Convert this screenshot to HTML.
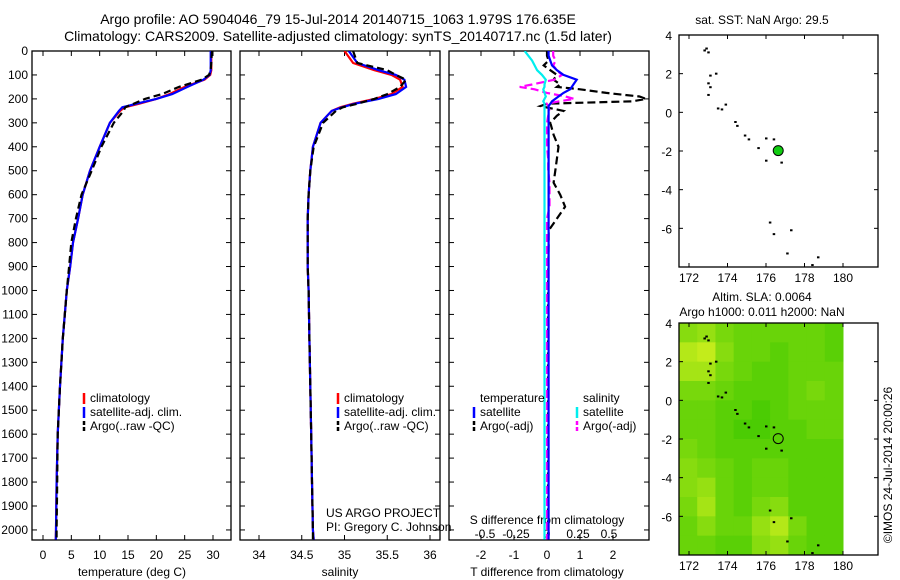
<!DOCTYPE html>
<html><head><meta charset="utf-8"><style>
body{margin:0;background:#fff}
svg{display:block;font-family:"Liberation Sans",sans-serif}
text{font-size:12px;fill:#000}
</style></head><body>
<svg id="s" width="900" height="580" viewBox="0 0 900 580">
<text x="338" y="24" text-anchor="middle" style="font-size:14px">Argo profile: AO 5904046_79 15-Jul-2014 20140715_1063 1.979S 176.635E</text>
<text x="338" y="41" text-anchor="middle" style="font-size:14px">Climatology: CARS2009. Satellite-adjusted climatology: synTS_20140717.nc (1.5d later)</text>
<text x="762" y="24" text-anchor="middle">sat. SST: NaN Argo: 29.5</text>
<text x="762" y="301" text-anchor="middle">Altim. SLA: 0.0064</text>
<text x="762" y="316" text-anchor="middle">Argo h1000: 0.011 h2000: NaN</text>
<text transform="translate(892,465) rotate(-90)" text-anchor="middle">©IMOS 24-Jul-2014 20:00:26</text>
<text x="326" y="517">US ARGO PROJECT</text>
<text x="326" y="531">PI: Gregory C. Johnson</text>
</svg>
<script>
const depth=[0,50,80,100,120,150,180,200,220,235,250,300,400,500,600,700,800,900,1000,1200,1400,1600,1800,2000,2040];
const tempClim=[29.7,29.7,29.7,29.5,28.5,25,22.3,20,17,14.4,13.6,11.8,10,8.3,7,6.2,5.3,4.8,4.2,3.5,3,2.6,2.4,2.3,2.25];
const tempSat=[29.6,29.6,29.6,29.4,28.3,25.5,22.8,20,16.5,14,13.4,11.8,10,8.3,7,6.2,5.3,4.8,4.2,3.5,3,2.6,2.4,2.3,2.25];
const tempArgo=[29.8,29.7,29.6,29.3,28.0,24,21,18,16,14.5,14.2,12.5,10.3,8.6,6.8,5.8,5.0,4.6,4.2,3.5,3,2.6,2.5,2.4,2.4];
const salClim=[35.0,35.1,35.35,35.55,35.65,35.68,35.55,35.35,35.1,34.95,34.85,34.72,34.63,34.6,34.58,34.57,34.57,34.57,34.58,34.59,34.6,34.61,34.62,34.63,34.64];
const salSat=[35.05,35.15,35.4,35.6,35.7,35.72,35.6,35.4,35.12,34.97,34.85,34.72,34.63,34.6,34.58,34.57,34.57,34.57,34.58,34.59,34.6,34.61,34.62,34.63,34.64];
const salArgo=[35.1,35.15,35.5,35.6,35.72,35.65,35.5,35.35,35.15,34.98,34.9,34.75,34.64,34.6,34.58,34.57,34.57,34.57,34.58,34.59,34.6,34.61,34.62,34.63,34.63];
const diffDepth=[0,20,40,60,80,100,120,140,150,160,175,190,200,210,220,230,250,270,300,350,400,450,500,550,600,650,700,750,800,1000,1500,2000,2040];
const tSatDiff=[0.05,0.05,0.1,0.15,0.3,0.5,0.9,0.8,0.75,0.7,0.5,0.35,0.25,0.15,0.1,0.05,0.05,0.05,0.05,0.05,0.05,0.05,0.05,0.05,0.05,0.05,0.05,0.05,0.05,0.05,0.05,0.05,0.05];
const tArgoDiff=[0,0,0.05,-0.1,0.1,0.3,0.2,0.4,0.3,1.0,1.8,2.8,3.0,2.6,0.0,-0.2,0.5,0.3,0.1,0.2,0.35,0.3,0.25,0.2,0.4,0.55,0.3,0.05,0.05,0.03,0.03,0.03,0.03];
const sSatDiff=[-0.18,-0.15,-0.12,-0.1,-0.08,-0.04,-0.01,-0.02,-0.02,-0.03,-0.02,-0.01,-0.02,-0.03,-0.02,-0.02,-0.02,-0.02,-0.02,-0.02,-0.02,-0.02,-0.02,-0.02,-0.02,-0.02,-0.02,-0.02,-0.02,-0.02,-0.02,-0.02,-0.02];
const sArgoDiff=[0.05,0.05,0.07,0.05,0.08,0.12,0.06,-0.12,-0.22,-0.1,0.0,0.15,0.22,0.1,0.0,0.01,0.02,0.01,0,0,0,0.01,0.01,0.02,0.02,0.02,0.0,0,0,0,0,0,0];
const depthTicks=[0,100,200,300,400,500,600,700,800,900,1000,1100,1200,1300,1400,1500,1600,1700,1800,1900,2000];
const tempTicks=[0,5,10,15,20,25,30];
const salTicks=[34,34.5,35,35.5,36];
const tDiffTicks=[-2,-1,0,1,2];
const sDiffTicks=[-0.5,-0.25,0,0.25,0.5];
const sdLabels=["-0.5","-0.25","0","0.25","0.5"];
const latTicks=[4,2,0,-2,-4,-6];
const lonTicks=[172,174,176,178,180];
const slaGrid=[
[0.5,0.6,0.4,0.3,0.3,0.3,0.3,0.3,0.2],
[0.8,0.9,0.5,0.3,0.3,0.2,0.3,0.3,0.2],
[0.7,0.7,0.4,0.3,0.2,0.2,0.3,0.3,0.3],
[0.4,0.4,0.3,0.2,0.2,0.2,0.3,0.4,0.3],
[0.3,0.3,0.2,0.2,0.1,0.2,0.3,0.3,0.3],
[0.3,0.3,0.2,0.1,0.1,0.2,0.2,0.3,0.3],
[0.4,0.3,0.2,0.2,0.2,0.2,0.2,0.2,0.2],
[0.5,0.4,0.3,0.2,0.3,0.3,0.2,0.2,0.2],
[0.5,0.6,0.3,0.2,0.3,0.3,0.2,0.2,0.2],
[0.4,0.7,0.3,0.2,0.4,0.5,0.2,0.2,0.2],
[0.3,0.5,0.3,0.3,0.6,0.8,0.4,0.2,0.2],
[0.3,0.3,0.2,0.2,0.5,0.6,0.3,0.2,0.2]];
const islandLon=[172.9,173.0,172.8,173.1,173.0,173.4,173.1,173.0,173.5,173.7,173.9,174.4,174.5,174.9,175.1,175.6,176.0,176.4,176.0,176.8,176.2,176.4,177.3,177.1,178.7,178.4];
const islandLat=[3.3,3.1,3.2,1.9,1.5,2.0,1.3,0.9,0.2,0.15,0.4,-0.5,-0.7,-1.2,-1.4,-1.85,-1.35,-1.4,-2.5,-2.6,-5.7,-6.3,-6.1,-7.3,-7.5,-7.9];
const argoLon=[176.635];
const argoLat=[-1.979];

const svg=document.getElementById('s');
const NS='http://www.w3.org/2000/svg';
function mk(tag,attrs,parent){const e=document.createElementNS(NS,tag);for(const k in attrs)e.setAttribute(k,attrs[k]);(parent||svg).appendChild(e);return e;}
const plotTop=51,plotBot=540,d0=0,d1=2042;
const yD=d=>plotTop+(d-d0)/(d1-d0)*(plotBot-plotTop);
function lin(a,b,pa,pb){return v=>pa+(v-a)/(b-a)*(pb-pa);}
const xT=lin(0,30,43,213);
const xS=lin(34,36,259,430);
const xTD=lin(0,1,547,580);
const xSD=lin(0,0.25,547,578);
const panels=[[32,231,'temperature-panel'],[240,440,'salinity-panel'],[449,649,'difference-panel']];
const defs=mk('defs',{});
panels.forEach(([l,r],i)=>{const c=mk('clipPath',{id:'c'+i},defs);mk('rect',{x:l,y:plotTop,width:r-l,height:plotBot-plotTop},c);});
panels.forEach(([l,r,n],pi)=>{
  const f=mk('rect',{x:l,y:plotTop,width:r-l,height:plotBot-plotTop,fill:'none',stroke:'#000','stroke-width':1.3});
  
  
  depthTicks.forEach(d=>{
    const y=yD(d);
    mk('line',{x1:l,x2:l+5,y1:y,y2:y,stroke:'#000'});
    mk('line',{x1:r,x2:r-5,y1:y,y2:y,stroke:'#000'});
    if(pi===0){const t=mk('text',{x:l-4,y:y+4,'text-anchor':'end'});t.textContent=d;
      
      }
  });
});
function xAxis(ticks,labels,fx,y,tickTop,name){
  ticks.forEach((v,i)=>{const x=fx(v);
    mk('line',{x1:x,x2:x,y1:plotBot,y2:plotBot-5,stroke:'#000'});
    if(tickTop)mk('line',{x1:x,x2:x,y1:plotTop,y2:plotTop+5,stroke:'#000'});
    const t=mk('text',{x:x,y:y,'text-anchor':'middle'});t.textContent=labels?labels[i]:v;
    
    });
}
xAxis(tempTicks,null,xT,559,true,'temperature-tick-label');
xAxis(salTicks,null,xS,559,true,'salinity-tick-label');
xAxis(tDiffTicks,null,xTD,559,true,'t-diff-tick-label');
sDiffTicks.forEach((v,i)=>{const t=mk('text',{x:xSD(v),y:538,'text-anchor':'middle'});t.textContent=sdLabels[i];
  
  });
[['temperature (deg C)',132,'temperature-axis-title'],['salinity',340,'salinity-axis-title'],['T difference from climatology',547,'t-diff-axis-title']].forEach(([s,x,n])=>{
  const t=mk('text',{x:x,y:576,'text-anchor':'middle'});t.textContent=s;
  
  });
{const t=mk('text',{x:547,y:524,'text-anchor':'middle'});t.textContent='S difference from climatology';
 
 }
function line(vals,dep,fx,col,dash,name,clip){
  const pts=vals.map((v,i)=>fx(v).toFixed(1)+','+yD(dep[i]).toFixed(1)).join(' ');
  const p=mk('polyline',{points:pts,fill:'none',stroke:col,'stroke-width':2.2,'stroke-dasharray':dash||'none','clip-path':'url(#'+clip+')'});
  
  
}
line(tempClim,depth,xT,'#f00',null,'temp-climatology-line','c0');
line(tempSat,depth,xT,'#00f',null,'temp-satellite-line','c0');
line(tempArgo,depth,xT,'#000','7,4','temp-argo-line','c0');
line(salClim,depth,xS,'#f00',null,'sal-climatology-line','c1');
line(salSat,depth,xS,'#00f',null,'sal-satellite-line','c1');
line(salArgo,depth,xS,'#000','7,4','sal-argo-line','c1');
line(tArgoDiff,diffDepth,xTD,'#000','8,4','t-argo-diff-line','c2');
line(sArgoDiff,diffDepth,xSD,'#f0f','8,4','s-argo-diff-line','c2');
line(tSatDiff,diffDepth,xTD,'#00f',null,'t-satellite-diff-line','c2');
line(sSatDiff,diffDepth,xSD,'#0ee',null,'s-satellite-diff-line','c2');
function legend(x,y,col,dash,label,name){
  mk('line',{x1:x,x2:x,y1:y-9,y2:y+2,stroke:col,'stroke-width':2.5,'stroke-dasharray':dash||'none'});
  const t=mk('text',{x:x+6,y:y});t.textContent=label;
  
  
}
[[84,'temp'],[338,'sal']].forEach(([x,p])=>{
  legend(x,402,'#f00',null,'climatology',p+'-legend-climatology');
  legend(x,416,'#00f',null,'satellite-adj. clim.',p+'-legend-satellite');
  legend(x,430,'#000','4,2','Argo(..raw -QC)',p+'-legend-argo');
});
{const t=mk('text',{x:480,y:402});t.textContent='temperature';}
{const t=mk('text',{x:583,y:402});t.textContent='salinity';}
legend(474,416,'#00f',null,'satellite','diff-legend-t-satellite');
legend(474,430,'#000','4,2','Argo(-adj)','diff-legend-t-argo');
legend(577,416,'#0ee',null,'satellite','diff-legend-s-satellite');
legend(577,430,'#f0f','4,2','Argo(-adj)','diff-legend-s-argo');

const mL=679,mR=878,xLon=lin(172,180,689,843);
function drawMap(mT,mB,name,filled){
  const yLat=lin(4,-8,mT,mB);
  if(!filled){
    const cols=slaGrid[0].length,rows=slaGrid.length,cw=(xLon(180)-mL)/cols,ch=(mB-mT)/rows;
    slaGrid.forEach((row,r)=>row.forEach((v,c)=>{
      const R=Math.round(60+v*150),G=Math.round(200+v*40),B=Math.round(v*30);
      const cell=mk('rect',{x:mL+c*cw,y:mT+r*ch,width:cw+0.5,height:ch+0.5,fill:`rgb(${R},${G},${B})`});
      
      
    }));
  }
  const f=mk('rect',{x:mL,y:mT,width:mR-mL,height:mB-mT,fill:'none',stroke:'#000','stroke-width':1.3});
  
  
  latTicks.forEach(v=>{const y=yLat(v);
    mk('line',{x1:mL,x2:mL+4,y1:y,y2:y,stroke:'#000'});mk('line',{x1:mR,x2:mR-4,y1:y,y2:y,stroke:'#000'});
    const t=mk('text',{x:mL-7,y:y+5,'text-anchor':'end'});t.textContent=v;
    
    });
  lonTicks.forEach(v=>{const x=xLon(v);
    mk('line',{x1:x,x2:x,y1:mB,y2:mB-4,stroke:'#000'});mk('line',{x1:x,x2:x,y1:mT,y2:mT+4,stroke:'#000'});
    const t=mk('text',{x:x,y:mB+15,'text-anchor':'middle'});t.textContent=v;
    
    });
  islandLon.forEach((lo,i)=>{const d=mk('rect',{x:xLon(lo)-1,y:yLat(islandLat[i])-1,width:2.5,height:2,fill:'#000'});
    
    });
  argoLon.forEach((lo,i)=>{const c=mk('circle',{cx:xLon(lo),cy:yLat(argoLat[i]),r:5,fill:filled?'#1c1':'none',stroke:'#000','stroke-width':1});
    
    });
}
drawMap(35,267,'sst-map',true);
drawMap(323,555,'sla-map',false);
</script>
</body></html>
